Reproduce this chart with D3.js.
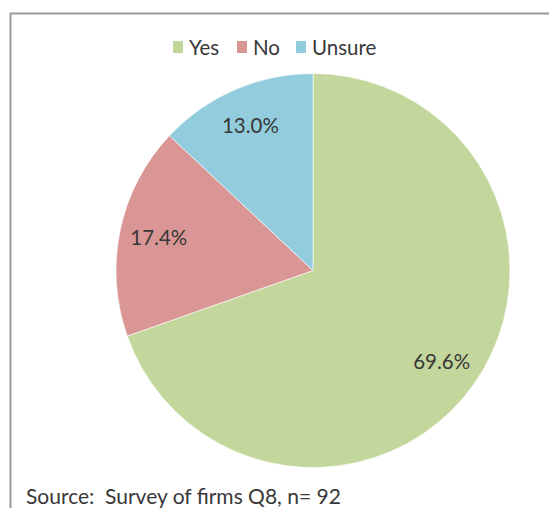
<!DOCTYPE html>
<html>
<head>
<meta charset="utf-8">
<script src="https://cdn.jsdelivr.net/npm/d3@7"></script>
<style>
  html, body { margin: 0; padding: 0; background: #fff; }
  svg { display: block; }
  text { white-space: pre; }
</style>
</head>
<body>
<svg id="chart" width="549" height="508"></svg>
<script>
// Survey answers, Q8 (n = 92)
const categories = ["Yes", "No", "Unsure"];
const shares = [69.6, 17.4, 13.0];
const labels = ["69.6%", "17.4%", "13.0%"];
const colors = ["#c3d69b", "#d99694", "#93cddd"];
const sourceNote = "Source:  Survey of firms Q8, n= 92";

const svg = d3.select("#chart");
const W = 549, H = 508;
const font = "Lato, 'Open Sans', sans-serif";

// chart frame (runs off the right and bottom edges)
svg.append("path")
  .attr("d", `M10.5,${H + 5} V13.5 H${W + 5}`)
  .attr("fill", "none")
  .attr("stroke", "#9a9a9a")
  .attr("stroke-width", 2);

const cx = 313, cy = 270.5, R = 197;

const pie = d3.pie().sort(null).value(d => d);
const arcs = pie(shares);
const arc = d3.arc().innerRadius(0).outerRadius(R);
const labelArc = d3.arc().innerRadius(R * 0.8).outerRadius(R * 0.8);

const g = svg.append("g").attr("transform", `translate(${cx},${cy})`);

g.selectAll("path.slice")
  .data(arcs)
  .join("path")
  .attr("class", "slice")
  .attr("d", arc)
  .attr("fill", (d, i) => colors[i])
  .attr("stroke", "#ffffff")
  .attr("stroke-width", 0.6);

g.selectAll("text.value")
  .data(arcs)
  .join("text")
  .attr("class", "value")
  .attr("transform", d => `translate(${labelArc.centroid(d)})`)
  .attr("text-anchor", "middle")
  .attr("dy", "0.36em")
  .attr("font-family", font)
  .attr("font-size", 20.5)
  .attr("fill", "#383838")
  .text((d, i) => labels[i]);

// legend across the top
const legend = svg.append("g").attr("transform", "translate(0,48)");
const legendX = [173, 237, 296];
categories.forEach((c, i) => {
  const item = legend.append("g").attr("transform", `translate(${legendX[i]},0)`);
  item.append("rect")
    .attr("x", 0).attr("y", -7).attr("width", 10).attr("height", 12)
    .attr("fill", colors[i]);
  item.append("text")
    .attr("x", 16).attr("y", 0).attr("dy", "0.36em")
    .attr("font-family", font)
    .attr("font-size", 20.5)
    .attr("fill", "#383838")
    .text(c);
});

// source note
svg.append("text")
  .attr("x", 26).attr("y", 504)
  .attr("font-family", font)
  .attr("font-size", 21)
  .attr("fill", "#383838")
  .text(sourceNote);
</script>
</body>
</html>
